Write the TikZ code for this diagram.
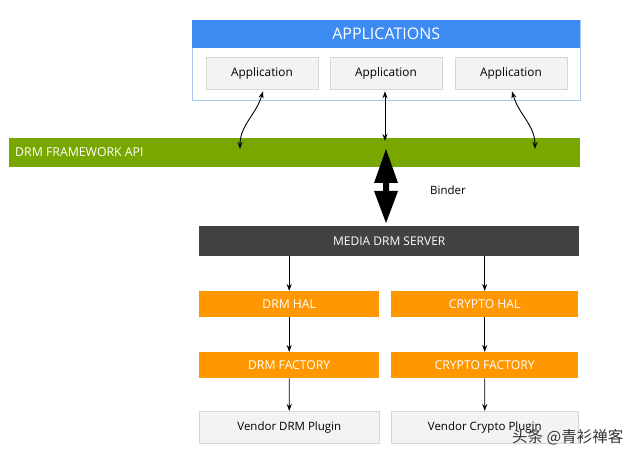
\documentclass[tikz,border=0pt]{standalone}
\usepackage{fontspec}
\setmainfont{Open Sans}
\newfontfamily\cjk{Noto Sans CJK SC}
\usetikzlibrary{arrows.meta}
\definecolor{appblue}{HTML}{3D8BF2}
\definecolor{appborder}{HTML}{A9C8F0}
\definecolor{fwgreen}{HTML}{78A800}
\definecolor{srvgray}{HTML}{424242}
\definecolor{halorange}{HTML}{FF9800}
\definecolor{boxgray}{HTML}{F3F3F3}
\definecolor{boxborder}{HTML}{D6D6D6}
\begin{document}
\begin{tikzpicture}[x=1pt,y=-1pt,
  appbox/.style={draw=boxborder,fill=boxgray,line width=0.6pt,minimum width=112pt,minimum height=32pt,inner sep=0pt,font=\fontsize{11.8}{13}\selectfont},
  orangebox/.style={fill=halorange,text=white,minimum height=26pt,inner sep=0pt,font=\fontsize{12.2}{14}\selectfont},
  vendorbox/.style={draw=boxborder,fill=boxgray,line width=0.6pt,minimum height=32pt,inner sep=0pt,font=\fontsize{11.5}{13}\selectfont},
  thinarrow/.style={-{Stealth[length=7pt,width=5pt]},line width=0.9pt},
  dblarrow/.style={{Stealth[length=7pt,width=5pt]}-{Stealth[length=7pt,width=5pt]},line width=0.9pt}
]
\useasboundingbox (0,0) rectangle (640,457);
\fill[white] (0,0) rectangle (640,457);

% Applications container
\node[draw=appborder,line width=0.8pt,minimum width=388pt,minimum height=80pt,inner sep=0pt,anchor=north west] (apps) at (192,20) {};
\node[fill=appblue,text=white,minimum width=388pt,minimum height=28pt,inner sep=0pt,anchor=north west,font=\fontsize{16}{18}\selectfont] (appshead) at (192,20) {APPLICATIONS};
\node[appbox] (app1) at (262,73) {Application};
\node[appbox] (app2) at (386,73) {Application};
\node[appbox] (app3) at (511,73) {Application};

% Framework
\node[fill=fwgreen,minimum width=571pt,minimum height=29pt,inner sep=0pt,anchor=north west] (fw) at (9,138) {};
\node[text=white,anchor=west,inner sep=0pt,font=\fontsize{12.3}{14}\selectfont] (fwlabel) at (15,152.5) {DRM FRAMEWORK API};

\coordinate (c1) at (240,149);
\coordinate (c2) at (385,141);
\coordinate (c3) at (535,149);
\draw[dblarrow] (app1.south) ++(1,2) coordinate (s1) .. controls (256,115) and (240,125) .. (c1);
\draw[dblarrow] (app2.south -| c2) ++(0,2) coordinate (s2) -- (c2);
\draw[dblarrow] (app3.south) ++(1,2) coordinate (s3) .. controls (519,115) and (535,125) .. (c3);

% Server
\node[fill=srvgray,text=white,minimum width=380pt,minimum height=30pt,inner sep=0pt,anchor=north west,font=\fontsize{12}{14}\selectfont] (srv) at (199,226) {MEDIA DRM SERVER};

% Binder big arrow
\fill[black] (386,149) -- (398,183) -- (389,183) -- (389,191) -- (398,191) -- (386,223) -- (374,191) -- (383,191) -- (383,183) -- (374,183) -- cycle;
\node[font=\fontsize{11.5}{13}\selectfont] (binder) at (448,190) {Binder};

% HAL column
\node[orangebox,minimum width=180pt,anchor=north west] (drmhal) at (199,291) {DRM HAL};
\node[orangebox,minimum width=187pt,anchor=north west] (cryhal) at (391,291) {CRYPTO HAL};
\node[orangebox,minimum width=180pt,anchor=north west] (drmfac) at (199,352) {DRM FACTORY};
\node[orangebox,minimum width=187pt,anchor=north west] (cryfac) at (391,352) {CRYPTO FACTORY};
\node[vendorbox,minimum width=180pt,anchor=north west] (drmven) at (199,411) {Vendor DRM Plugin};
\node[vendorbox,minimum width=187pt,anchor=north west] (cryven) at (391,411) {Vendor Crypto Plugin};

\draw[thinarrow] (srv.south -| drmhal.north) -- (drmhal.north);
\draw[thinarrow] (srv.south -| cryhal.north) -- (cryhal.north);
\draw[thinarrow] (drmhal) -- (drmfac);
\draw[thinarrow] (cryhal) -- (cryfac);
\draw[thinarrow] (drmfac) -- (drmven);
\draw[thinarrow] (cryfac) -- (cryven);

% watermark
\node[anchor=west,inner sep=0pt,text=black!80,font=\cjk\fontsize{15.5}{17}\selectfont] (wm) at (512,437) {头条 @青衫禅客};
\end{tikzpicture}
\end{document}
